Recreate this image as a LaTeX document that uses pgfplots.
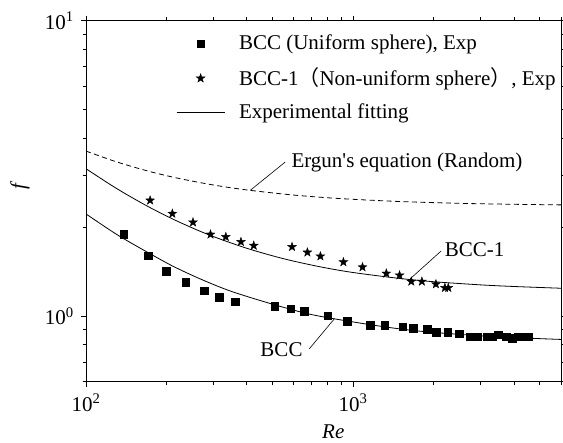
\documentclass[border=0pt]{standalone}
\usepackage{fontspec}
\setmainfont{Liberation Serif}
\newfontfamily\cjk{Noto Sans CJK SC}
\usepackage{pgfplots}
\pgfplotsset{compat=1.18}
\pgfdeclareplotmark{fstar}{%
  \pgfpathmoveto{\pgfpointpolar{90}{\pgfplotmarksize}}%
  \pgfpathlineto{\pgfpointpolar{126}{0.40*\pgfplotmarksize}}%
  \pgfpathlineto{\pgfpointpolar{162}{\pgfplotmarksize}}%
  \pgfpathlineto{\pgfpointpolar{198}{0.40*\pgfplotmarksize}}%
  \pgfpathlineto{\pgfpointpolar{234}{\pgfplotmarksize}}%
  \pgfpathlineto{\pgfpointpolar{270}{0.40*\pgfplotmarksize}}%
  \pgfpathlineto{\pgfpointpolar{306}{\pgfplotmarksize}}%
  \pgfpathlineto{\pgfpointpolar{342}{0.40*\pgfplotmarksize}}%
  \pgfpathlineto{\pgfpointpolar{18}{\pgfplotmarksize}}%
  \pgfpathlineto{\pgfpointpolar{54}{0.40*\pgfplotmarksize}}%
  \pgfpathclose
  \pgfusepathqfillstroke
}
\begin{document}
\fontsize{21}{25}\selectfont
\begin{tikzpicture}
\path[use as bounding box] (-86pt,-61.3pt) rectangle (477pt,361pt+20.7pt);
\begin{axis}[
  scale only axis,
  width=475pt, height=361pt,
  xmode=log, ymode=log,
  xmin=100, xmax=6000, ymin=0.6, ymax=10,
  xtick={100,1000}, xticklabels={10\textsuperscript{2},10\textsuperscript{3}},
  ytick={1,10}, yticklabels={10\textsuperscript{0},10\textsuperscript{1}},
  minor xtick={200,300,400,500,600,700,800,900,2000,3000,4000,5000,6000},
  minor ytick={0.6,0.7,0.8,0.9,2,3,4,5,6,7,8,9},
  tick align=outside,
  major tick length=5pt, minor tick length=3.5pt,
  every tick/.style={black, line width=0.8pt},
  axis line style={line width=1pt},
  xlabel={\textit{Re}}, ylabel={\textit{f}},
  xlabel style={at={(axis description cs:0.5206,-0.157)}, anchor=base},
  ylabel style={at={(axis description cs:-0.139,0.545)}, anchor=center},
  legend style={at={(axis description cs:0.1895,0.967)}, anchor=north west,
    draw=none, fill=none, inner sep=0pt, row sep=11pt, column sep=12pt,
    cells={anchor=west}},
  legend image code/.code={\draw[mark repeat=2,mark phase=2,#1] plot coordinates {(0pt,0pt) (24pt,0pt) (48pt,0pt)};},
]
\addplot[only marks, mark=square*, mark size=3.8pt, black] coordinates {
(138.5,1.898) (171.2,1.604) (199.5,1.419) (236.1,1.300) (277,1.219) (316,1.161)
(361,1.119) (509,1.083) (583,1.060) (656,1.041) (803,1.002) (950,0.963)
(1161,0.930) (1313,0.930) (1533,0.921) (1679,0.911) (1895,0.902) (2046,0.882)
(2263,0.881) (2499,0.871) (2736,0.852) (2917,0.852) (3160,0.852) (3317,0.852)
(3494,0.865) (3734,0.852) (3933,0.843) (4142,0.852) (4363,0.852) (4515,0.852)
};
\addlegendentry{BCC (Uniform sphere), Exp}
\addplot[only marks, mark=fstar, mark size=4.6pt, black] coordinates {
(173.8,2.465) (210.5,2.223) (251.5,2.078) (292.4,1.891) (333.7,1.855) (380.2,1.784)
(424.6,1.733) (590.6,1.716) (674.2,1.644) (754.2,1.595) (919.6,1.524) (1084,1.465)
(1331,1.395) (1492,1.375) (1651,1.310) (1809,1.310) (2041,1.283) (2206,1.247) (2271,1.247)
};
\addlegendentry{BCC-1{\cjk （}Non-uniform sphere{\cjk ）}, Exp}
\addplot[black, line width=0.8pt, smooth, no marks] coordinates {
(100,2.218) (130,1.893) (164,1.675) (210,1.481) (268,1.336) (350,1.213) (504,1.095)
(700,1.012) (1065,0.947) (1500,0.905) (2000,0.881) (3000,0.858) (4000,0.846) (6000,0.834)
};
\addlegendentry{Experimental fitting}
\addplot[black, line width=0.8pt, smooth, no marks, forget plot] coordinates {
(100,3.155) (130,2.706) (170,2.355) (220,2.095) (290,1.881) (400,1.697) (550,1.564)
(750,1.470) (1000,1.405) (1500,1.341) (2000,1.308) (3000,1.276) (4000,1.260) (6000,1.243)
};
\addplot[black, line width=0.8pt, smooth, no marks, forget plot, dash pattern=on 5pt off 3.5pt] coordinates {
(100,3.62) (130,3.329) (170,3.101) (220,2.932) (300,2.779) (400,2.674) (600,2.569)
(900,2.499) (1500,2.443) (2500,2.409) (4000,2.391) (6000,2.38)
};
\draw[line width=0.6pt] (axis cs:557,3.324) -- (axis cs:412,2.666);
\node[anchor=base west, inner sep=0pt] at (axis cs:587,3.187) {Ergun\textquotesingle s equation (Random)};
\draw[line width=0.6pt] (axis cs:2134,1.661) -- (axis cs:1636,1.338);
\node[anchor=base west, inner sep=0pt] at (axis cs:2199,1.595) {BCC-1};
\draw[line width=0.6pt] (axis cs:686,0.776) -- (axis cs:851,0.980);
\node[anchor=base west, inner sep=0pt] at (axis cs:449.2,0.7325) {BCC};
\end{axis}
\end{tikzpicture}
\end{document}
